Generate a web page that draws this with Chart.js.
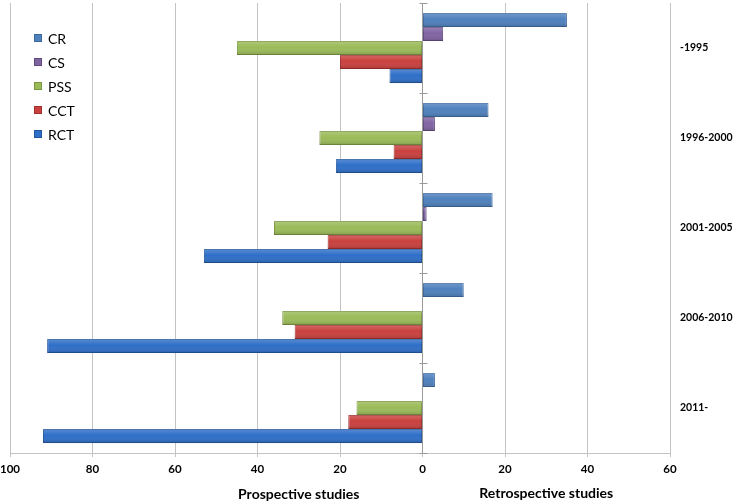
<!DOCTYPE html>
<html>
<head>
<meta charset="utf-8">
<script src="https://cdn.jsdelivr.net/npm/chart.js@4"></script>
<style>
  html, body { margin: 0; padding: 0; background: #fff; }
  #wrap { width: 737px; height: 504px; position: relative; }
</style>
</head>
<body>
<div id="wrap"><canvas id="c" width="737" height="504"></canvas></div>
<script>
// Categories (periods)
const periods = ['-1995', '1996-2000', '2001-2005', '2006-2010', '2011-'];
// Retrospective studies (plotted to the right of 0)
const CR  = [35, 16, 17, 10, 3];
const CS  = [5, 3, 1, 0, 0];
// Prospective studies (plotted to the left of 0)
const PSS = [45, 25, 36, 34, 16];
const CCT = [20, 7, 23, 31, 18];
const RCT = [8, 21, 53, 91, 92];
// Axis ticks
const xMin = -100, xMax = 60, xStep = 20;
const sideTitles = ['Prospective studies', 'Retrospective studies'];

const seriesNames = ['CR', 'CS', 'PSS', 'CCT', 'RCT'];
const fills   = ['#4F81BD', '#8064A2', '#9BBB59', '#C9413F', '#2F6FC8'];
const borders = ['#3D6A9E', '#5F4A80', '#7A9640', '#9E302E', '#22579E'];
const neg = a => a.map(v => -v);
const seriesData = [CR, CS, neg(PSS), neg(CCT), neg(RCT)];

const datasets = seriesNames.map((n, i) => ({
  label: n,
  data: seriesData[i],
  backgroundColor: fills[i],
  borderColor: borders[i],
  borderWidth: 1,
  borderSkipped: false,
  categoryPercentage: 0.78,
  barPercentage: 1.0
}));

const zeroPad = s => { s.paddingTop = 0; s.paddingBottom = 0; s.paddingLeft = 0; s.paddingRight = 0; };

const decor = {
  id: 'decor',
  afterDatasetsDraw(chart) {
    const ctx = chart.ctx;
    chart.data.datasets.forEach((ds, di) => {
      const meta = chart.getDatasetMeta(di);
      meta.data.forEach(bar => {
        const h = bar.height;
        if (!h || bar.x === bar.base) return;
        const top = bar.y - h / 2;
        const g = ctx.createLinearGradient(0, top, 0, top + h);
        g.addColorStop(0, 'rgba(255,255,255,0.2)');
        g.addColorStop(0.45, 'rgba(255,255,255,0.0)');
        g.addColorStop(1, 'rgba(0,0,0,0.16)');
        ctx.save();
        ctx.fillStyle = g;
        const x0 = Math.min(bar.x, bar.base), x1 = Math.max(bar.x, bar.base);
        ctx.fillRect(x0, top, x1 - x0, h);
        ctx.restore();
      });
    });
    const xs = chart.scales.x, ys = chart.scales.y;
    const x0 = Math.round(xs.getPixelForValue(0)) + 0.5;
    ctx.save();
    ctx.strokeStyle = '#9A9A9A';
    ctx.lineWidth = 1;
    const bounds = [ys.top];
    for (let i = 0; i < periods.length - 1; i++) {
      bounds.push((ys.getPixelForValue(i) + ys.getPixelForValue(i + 1)) / 2);
    }
    bounds.push(ys.bottom);
    bounds.forEach(b => {
      const y = Math.round(b) + 0.5;
      ctx.beginPath(); ctx.moveTo(x0 - 4, y); ctx.lineTo(x0 + 4, y); ctx.stroke();
    });
    ctx.restore();
  },
  afterDraw(chart) {
    const ctx = chart.ctx;
    const xs = chart.scales.x;
    ctx.save();
    ctx.fillStyle = '#000';
    ctx.font = 'bold 14px Lato';
    ctx.textAlign = 'center';
    ctx.textBaseline = 'middle';
    ctx.fillText(sideTitles[0], xs.getPixelForValue(-30), 494);
    ctx.fillText(sideTitles[1], xs.getPixelForValue(30), 493);
    ctx.font = '14px Lato';
    ctx.textAlign = 'left';
    seriesNames.forEach((n, i) => {
      const cy = 38 + i * 24;
      ctx.fillStyle = fills[i];
      ctx.fillRect(34, cy - 4, 8, 8);
      ctx.strokeStyle = borders[i];
      ctx.lineWidth = 1;
      ctx.strokeRect(34.5, cy - 3.5, 7, 7);
      ctx.fillStyle = '#000';
      ctx.fillText(n, 48, cy + 1);
    });
    ctx.restore();
  }
};

new Chart(document.getElementById('c'), {
  type: 'bar',
  data: { labels: periods, datasets },
  options: {
    indexAxis: 'y',
    responsive: false,
    animation: false,
    devicePixelRatio: 1,
    layout: { padding: { left: 10, top: 3, right: 0, bottom: 0 } },
    plugins: { legend: { display: false }, tooltip: { enabled: false } },
    scales: {
      x: {
        min: xMin, max: xMax,
        ticks: {
          stepSize: xStep,
          callback: v => String(Math.abs(v)),
          color: '#000',
          font: { family: 'Lato', weight: 'bold', size: 11.5 },
          padding: 5,
          maxRotation: 0
        },
        grid: {
          color: ctx => (ctx.tick && ctx.tick.value === 0) ? '#9A9A9A' : '#C3C3C3',
          tickColor: '#C3C3C3',
          tickLength: 4,
          lineWidth: 1
        },
        border: { color: '#C3C3C3' },
        afterFit: s => { s.height = 51; zeroPad(s); }
      },
      y: {
        position: 'right',
        ticks: {
          color: '#000',
          font: { family: 'Lato', weight: 'bold', size: 10.5 },
          padding: 10
        },
        grid: { display: false, drawTicks: false },
        border: { display: false },
        afterFit: s => { s.width = 67; zeroPad(s); }
      }
    }
  },
  plugins: [decor]
});
</script>
</body>
</html>
